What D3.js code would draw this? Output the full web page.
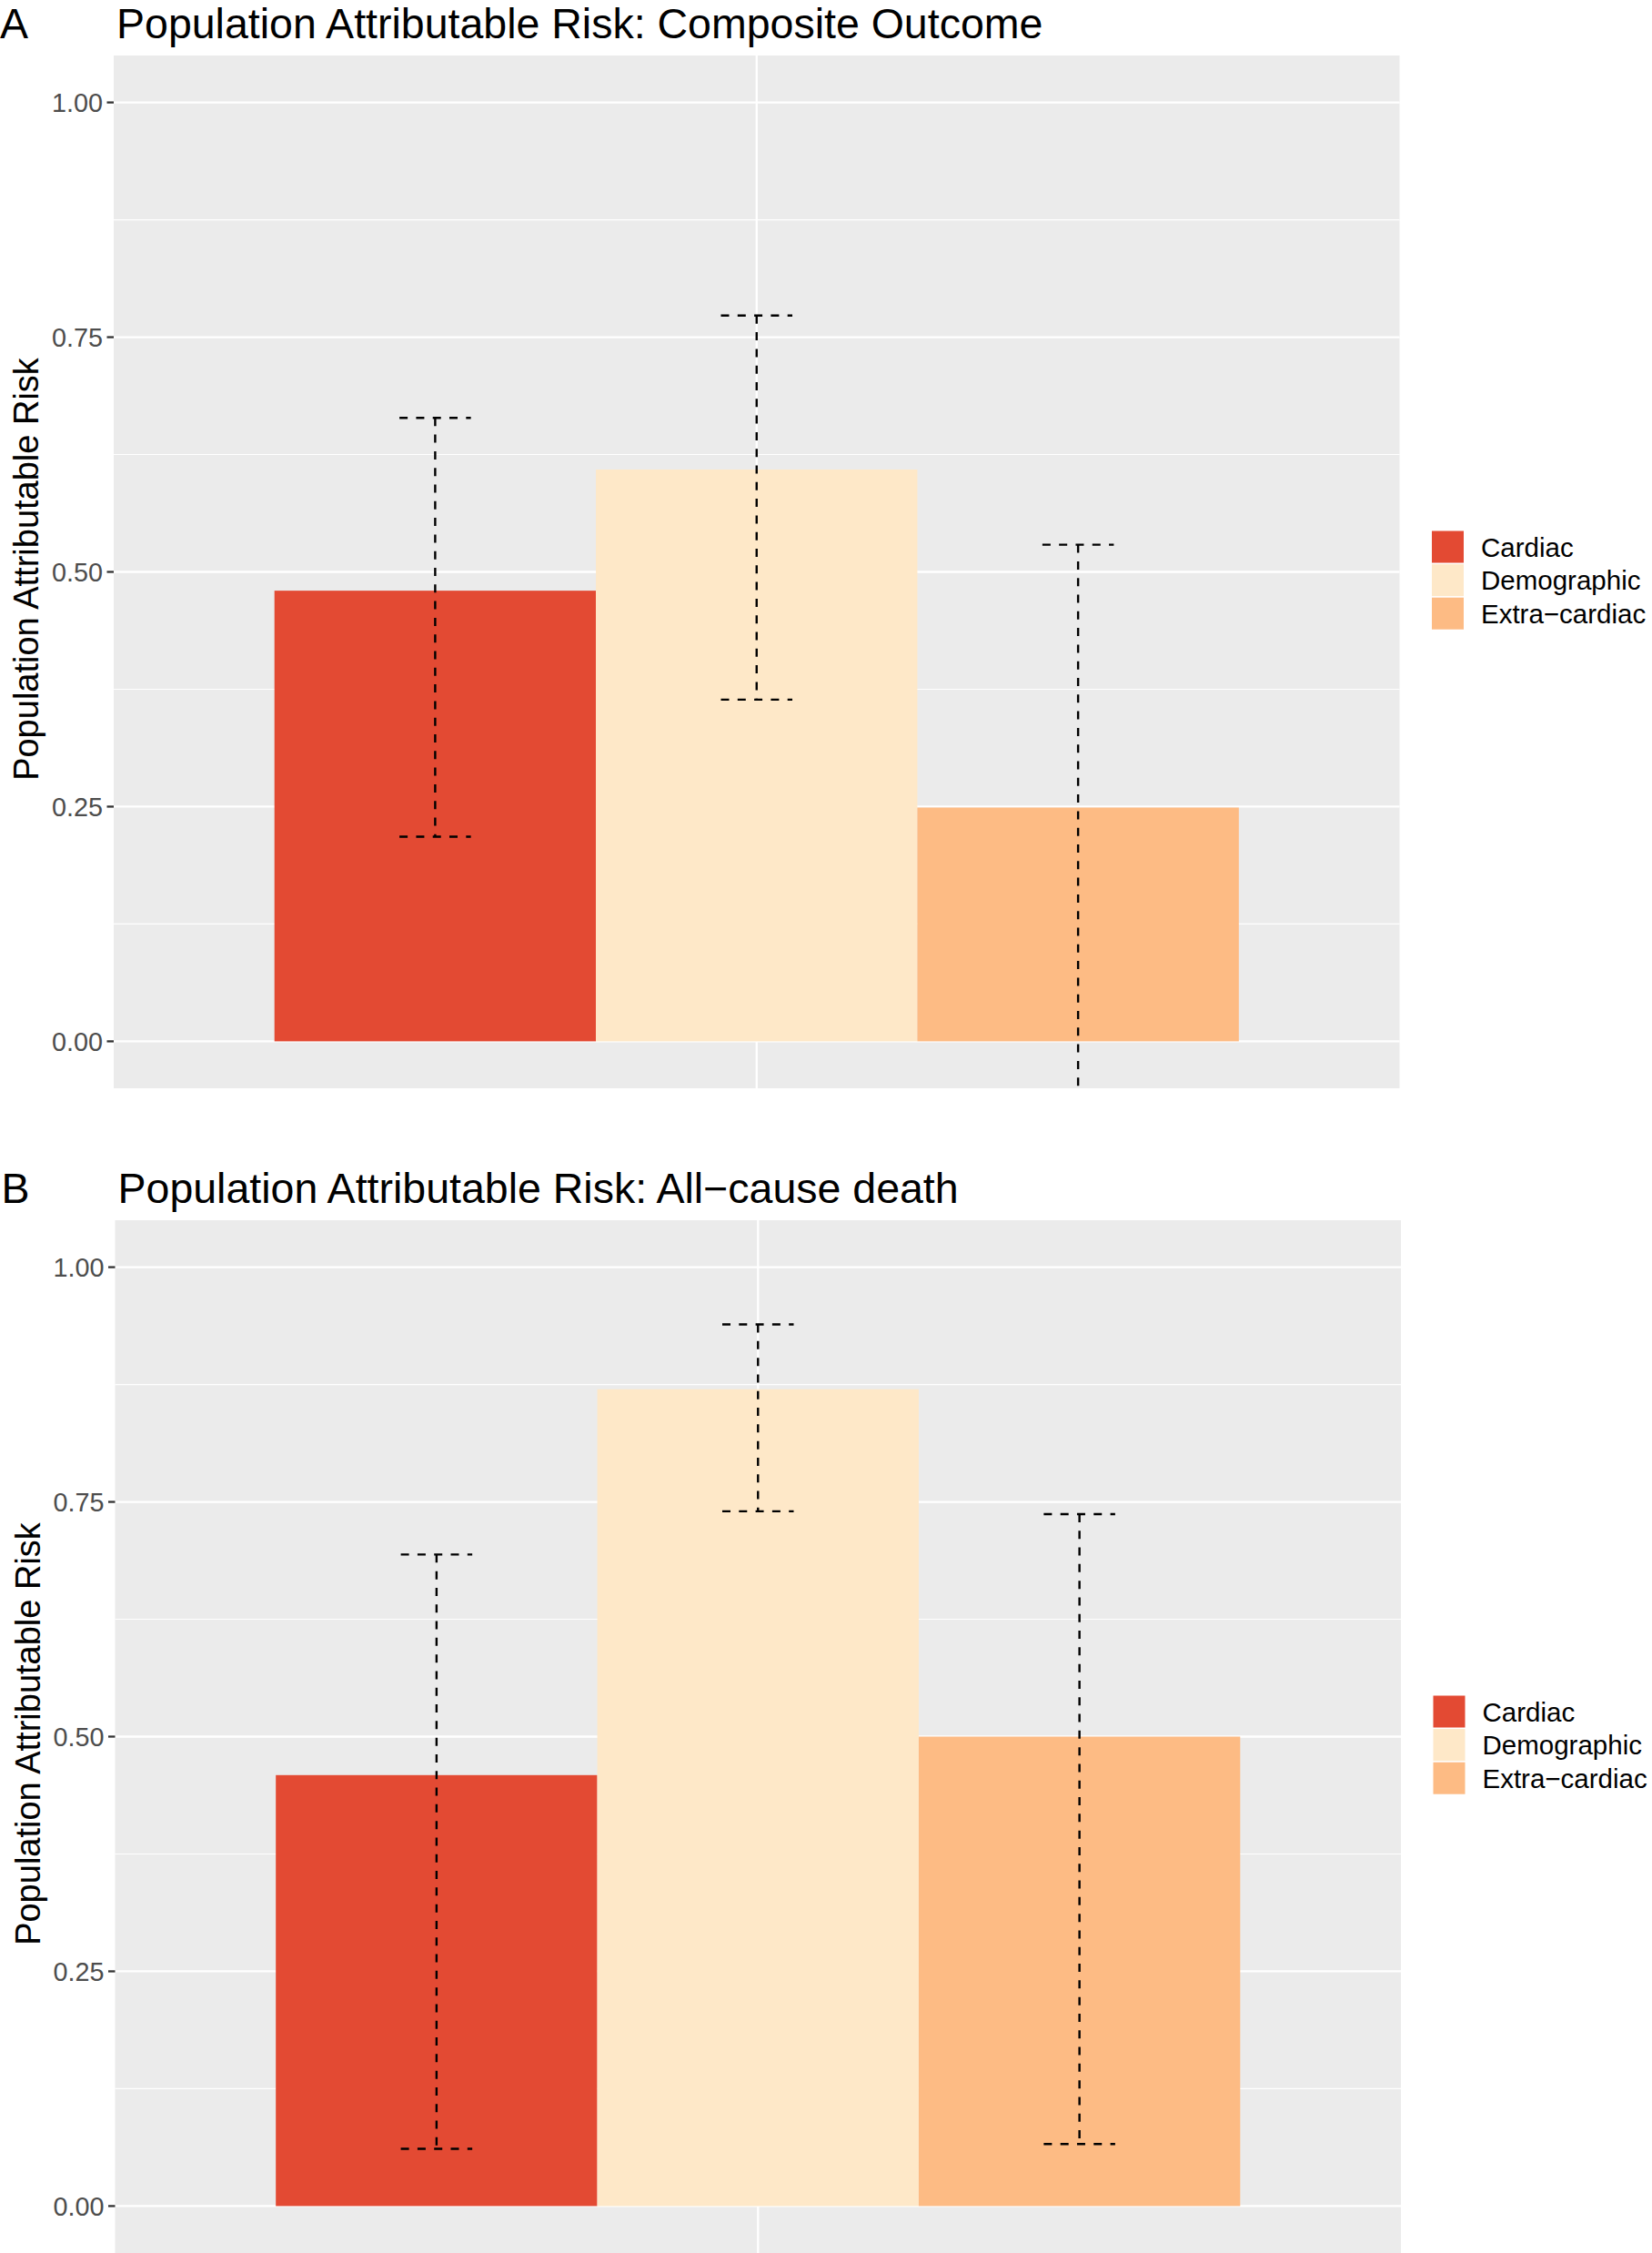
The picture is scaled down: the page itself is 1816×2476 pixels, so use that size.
<!DOCTYPE html>
<html>
<head>
<meta charset="utf-8">
<script src="https://cdn.jsdelivr.net/npm/d3@7"></script>
<style>
  html, body { margin: 0; padding: 0; background: #ffffff; }
  svg { display: block; }
  text { font-family: "Liberation Sans", Arial, Helvetica, sans-serif; }
</style>
</head>
<body>
<svg id="chart" width="1816" height="2476"></svg>
<script>
// ---- data ----
const categories = ["Cardiac", "Demographic", "Extra\u2212cardiac"];
const fillColors = ["#E34A33", "#FEE8C8", "#FDBB84"];

const parA = [0.480, 0.609, 0.249];
const lowerA = [0.218, 0.364, -0.12];
const upperA = [0.664, 0.773, 0.529];

const parB = [0.459, 0.870, 0.500];
const lowerB = [0.061, 0.740, 0.066];
const upperB = [0.694, 0.939, 0.737];

const yTickValues = [0, 0.25, 0.5, 0.75, 1.0];
const yTickLabels = ["0.00", "0.25", "0.50", "0.75", "1.00"];
const yMinorValues = [0.125, 0.375, 0.625, 0.875];

const titles = ["Population Attributable Risk: Composite Outcome",
                "Population Attributable Risk: All\u2212cause death"];
const tags = ["A", "B"];
const yAxisTitle = "Population Attributable Risk";

// ---- layout ----
const svg = d3.select("#chart");
const panels = [
  { tag: tags[0], title: titles[0], par: parA, lo: lowerA, hi: upperA,
    left: 125, right: 1538.5, top: 61, bottom: 1196, dx: 0 },
  { tag: tags[1], title: titles[1], par: parB, lo: lowerB, hi: upperB,
    left: 126.5, right: 1540, top: 1341, bottom: 2476, dx: 1.5 }
];

panels.forEach((p, pi) => {
  const g = svg.append("g");
  const x = d3.scaleLinear().domain([0.4, 1.6]).range([p.left, p.right]);
  const y = d3.scaleLinear().domain([-0.05, 1.05]).range([p.bottom, p.top]);

  const clipId = "clip" + pi;
  g.append("clipPath").attr("id", clipId)
    .append("rect").attr("x", p.left).attr("y", p.top)
    .attr("width", p.right - p.left).attr("height", p.bottom - p.top);

  // panel background
  g.append("rect").attr("x", p.left).attr("y", p.top)
    .attr("width", p.right - p.left).attr("height", p.bottom - p.top)
    .attr("fill", "#EBEBEB");

  // minor gridlines
  g.selectAll(".minor").data(yMinorValues).enter().append("line")
    .attr("x1", p.left).attr("x2", p.right)
    .attr("y1", d => y(d)).attr("y2", d => y(d))
    .attr("stroke", "#ffffff").attr("stroke-width", 1.2);
  // major gridlines
  g.selectAll(".major").data(yTickValues).enter().append("line")
    .attr("x1", p.left).attr("x2", p.right)
    .attr("y1", d => y(d)).attr("y2", d => y(d))
    .attr("stroke", "#ffffff").attr("stroke-width", 2.3);
  g.append("line")
    .attr("x1", x(1)).attr("x2", x(1))
    .attr("y1", p.top).attr("y2", p.bottom)
    .attr("stroke", "#ffffff").attr("stroke-width", 2.3);

  const inner = g.append("g").attr("clip-path", `url(#${clipId})`);
  const bw = 0.3;
  const centers = categories.map((c, i) => 1 + (i - 1) * bw);

  // bars
  inner.selectAll(".bar").data(categories).enter().append("rect")
    .attr("x", (d, i) => x(centers[i] - bw / 2))
    .attr("width", (d, i) => x(centers[i] + bw / 2) - x(centers[i] - bw / 2))
    .attr("y", (d, i) => y(p.par[i]))
    .attr("height", (d, i) => y(0) - y(p.par[i]))
    .attr("fill", (d, i) => fillColors[i]);

  // error bars
  const ew = 0.2 / 3;
  const eb = inner.selectAll(".eb").data(categories).enter().append("g");
  const dash = "9,9.3";
  eb.append("line")
    .attr("x1", (d, i) => x(centers[i] - ew / 2)).attr("x2", (d, i) => x(centers[i] + ew / 2))
    .attr("y1", (d, i) => y(p.hi[i])).attr("y2", (d, i) => y(p.hi[i]))
    .attr("stroke", "#000").attr("stroke-width", 2.4).attr("stroke-dasharray", dash);
  eb.append("line")
    .attr("x1", (d, i) => x(centers[i])).attr("x2", (d, i) => x(centers[i]))
    .attr("y1", (d, i) => y(p.hi[i])).attr("y2", (d, i) => y(p.lo[i]))
    .attr("stroke", "#000").attr("stroke-width", 2.4).attr("stroke-dasharray", dash);
  eb.append("line")
    .attr("x1", (d, i) => x(centers[i] - ew / 2)).attr("x2", (d, i) => x(centers[i] + ew / 2))
    .attr("y1", (d, i) => y(p.lo[i])).attr("y2", (d, i) => y(p.lo[i]))
    .attr("stroke", "#000").attr("stroke-width", 2.4).attr("stroke-dasharray", dash);

  // y axis ticks + labels
  g.selectAll(".tick").data(yTickValues).enter().append("line")
    .attr("x1", p.left - 7.5).attr("x2", p.left)
    .attr("y1", d => y(d)).attr("y2", d => y(d))
    .attr("stroke", "#333333").attr("stroke-width", 2.3);
  g.selectAll(".tl").data(yTickValues).enter().append("text")
    .attr("x", p.left - 12).attr("y", d => y(d) + 10.3)
    .attr("text-anchor", "end").attr("font-size", 28.8).attr("fill", "#4D4D4D")
    .text((d, i) => yTickLabels[i]);

  // y axis title
  const cy = (p.top + p.bottom) / 2 - 3;
  g.append("text")
    .attr("transform", `translate(${42 + p.dx},${cy}) rotate(-90)`)
    .attr("text-anchor", "middle").attr("font-size", 38).attr("fill", "#000")
    .text(yAxisTitle);

  // title and tag
  g.append("text").attr("x", p.left + 3).attr("y", p.top - 19)
    .attr("font-size", 46.5).attr("fill", "#000").text(p.title);
  g.append("text").attr("x", 0 + p.dx).attr("y", p.top - 19)
    .attr("font-size", 46.5).attr("fill", "#000").text(p.tag);

  // legend
  const lx = 1574 + p.dx;
  const ly0 = (p.top + p.bottom) / 2 - 45;
  const step = 36.6;
  const leg = g.selectAll(".leg").data(categories).enter().append("g");
  leg.append("rect")
    .attr("x", lx).attr("y", (d, i) => ly0 + i * step)
    .attr("width", 35).attr("height", 35)
    .attr("fill", (d, i) => fillColors[i]);
  leg.append("text")
    .attr("x", lx + 54).attr("y", (d, i) => ly0 + i * step + 17.5 + 10.5)
    .attr("font-size", 29.5).attr("fill", "#000")
    .text(d => d);
});
</script>
</body>
</html>
